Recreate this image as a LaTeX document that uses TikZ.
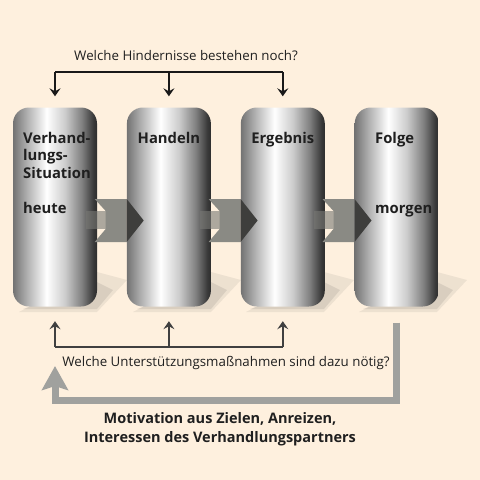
\documentclass[tikz,border=0pt]{standalone}
\usepackage{fontspec}
\setmainfont{Open Sans}
\usetikzlibrary{arrows.meta,positioning}
\definecolor{cream}{RGB}{254,240,222}
\definecolor{fbgray}{RGB}{160,161,158}
\definecolor{darkline}{RGB}{64,64,64}
\definecolor{stemgray}{RGB}{120,120,116}
\definecolor{headgray}{RGB}{138,138,132}
\definecolor{tipgray}{RGB}{62,62,60}
\pgfdeclarehorizontalshading{pillarshade}{100bp}{color(0bp)=(black!55); color(25bp)=(black!55); color(33bp)=(black!32); color(45bp)=(white); color(56bp)=(black!20); color(66bp)=(black!50); color(73bp)=(black!78); color(75bp)=(black!82); color(100bp)=(black!82)}
\tikzset{
  pillar/.style={shading=pillarshade, rounded corners=16pt, minimum width=84pt, minimum height=199pt, inner sep=0pt},
  ptext/.style={font=\bfseries\fontsize{14.8}{17.5}\selectfont, align=left, inner sep=0pt, text=black!88},
  qtext/.style={font=\fontsize{13.3}{15}\selectfont, inner sep=0pt, text=black!88},
  topline/.style={line width=2pt, black!90},
  botline/.style={line width=2pt, darkline},
  feedback/.style={line width=7pt, fbgray}
}

\begin{document}
\begin{tikzpicture}[x=1pt,y=-1pt]
        % background
        \useasboundingbox (0,0) rectangle (480,480);
        \fill[cream] (0,0) rectangle (480,480);

        % shadows
        \foreach \r in {97,211,324,437} {
          \fill[black!70, opacity=.09] (\r-78,312) -- (\r,312) -- (\r+30,280) -- (\r,272) -- cycle;
          \fill[black!70, opacity=.12] (\r-74,309) -- (\r,309) -- (\r+16,290) -- (\r,282) -- cycle;
        }

        % pillars
        \node[pillar] (sit) at (55,207) {};
        \node[pillar, right=29.5pt of sit] (hand) {};
        \node[pillar, right=29.5pt of hand] (erg) {};
        \node[pillar, right=29.5pt of erg] (folge) {};

        % labels
        \node[ptext, anchor=north west] (sitlbl) at (23,132) {Verhand-\\lungs-\\Situation\\[17.5pt]heute};
        \node[ptext, anchor=north] (handlbl) at (hand.north |- sitlbl.north) {Handeln};
        \node[ptext, anchor=north] (erglbl) at (erg.north |- sitlbl.north) {Ergebnis};
        \node[ptext, anchor=north west] (folgelbl) at (375,132) {Folge\\[52.5pt]morgen};

        % block arrows
        \foreach \b in {hand,erg,folge} {
          \begin{scope}[shift={(\b.west)}]
            \fill[stemgray, opacity=.6] (-41,4) rectangle (-21,22);
            \fill[headgray] (-32,-8) -- (0,-8) -- (0,35) -- (-32,35) -- (-21,22) -- (-21,4) -- cycle;
            \fill[tipgray] (0,-8) -- (17,13.5) -- (0,35) -- cycle;
          \end{scope}
        }

        % Hindernisse
        \node[qtext] (hind) at (186,56) {Welche Hindernisse bestehen noch?};
        \coordinate (hindbar) at (169,72);
        \draw[topline] (sit.north |- hindbar) -- (erg.north |- hindbar);
        \foreach \p in {sit,hand,erg}
          \draw[topline, -{Stealth[length=8pt,width=11pt,inset=3pt]}, shorten >=11pt] (\p.north |- hindbar) -- (\p.north);

        % Unterstuetzung
        \node[qtext] (unter) at (226,363) {Welche Unterstützungsmaßnahmen sind dazu nötig?};
        \coordinate (unterbar) at (169,347);
        \draw[botline] (sit.south |- unterbar) -- (erg.south |- unterbar);
        \foreach \p in {sit,hand,erg}
          \draw[botline, -{Stealth[length=8pt,width=11pt,inset=3pt]}, shorten >=14.5pt] (\p.south |- unterbar) -- (\p.south);

        % Motivation
        \coordinate (fbbar) at (169,400);
        \coordinate (fbtip) at (55,366);
        \draw[feedback, shorten <=16pt, -{Stealth[length=24pt,width=26pt,inset=4pt]}] (folge.south) |- (fbbar) -| (fbtip);
        \node[ptext, font=\bfseries\fontsize{14.5}{19}\selectfont, align=center] (motiv) at (220,429) {Motivation aus Zielen, Anreizen,\\Interessen des Verhandlungspartners};

    \end{tikzpicture}
\end{document}
